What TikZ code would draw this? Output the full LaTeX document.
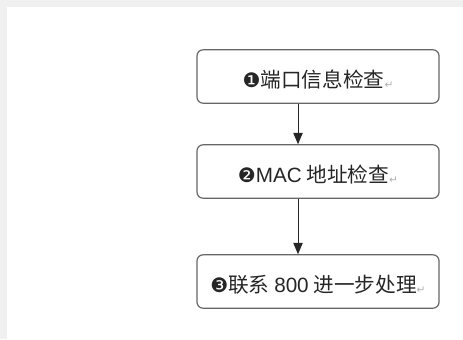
\documentclass[tikz,border=0pt]{standalone}
\usepackage{fontspec}
\setmainfont{Liberation Sans}
\newfontfamily\cjk{Noto Sans CJK SC}
\newfontfamily\sym{DejaVu Sans}
\usetikzlibrary{arrows.meta}
\newcommand{\retmark}{{\sym\fontsize{8}{9}\selectfont\color{gray!60}\raisebox{-0.5pt}{↵}}}
\newcommand{\stepno}[1]{{\sym\fontsize{15}{16}\selectfont #1}}
\tikzset{
  stepbox/.style={draw=black!60, line width=0.9pt, rounded corners=4.5pt, fill=white,
    minimum width=181.5pt, minimum height=40pt, inner sep=0pt,
    text height=17pt, text depth=0pt,
    font=\cjk\fontsize{15.5}{17}\selectfont, text=black!85},
  flow/.style={-{Triangle[width=7pt,length=8.5pt]}, black!85, line width=0.7pt}
}
\begin{document}
\begin{tikzpicture}[x=0.75pt,y=-0.75pt]
    % Page
    \fill[black!6] (0,0) rectangle (463,339);
    \fill[white] (7,7) rectangle (463,339);
    \useasboundingbox (0,0) rectangle (463,339);

    % Nodes
    \node[stepbox] (check1) at (318,76.5) {\stepno{❶}端口信息检查\retmark};
    \node[stepbox] (check2) at (318,171.5) {\stepno{❷}{\rmfamily MAC} 地址检查\retmark};
    \node[stepbox] (check3) at (318,281.5) {\stepno{❸}联系 {\rmfamily 800} 进一步处理\retmark};

    % Edges
    \foreach \a/\b in {check1/check2, check2/check3}
        \draw[flow] ([xshift=-15pt]\a.south) -- ([xshift=-15pt]\b.north);
\end{tikzpicture}
\end{document}
